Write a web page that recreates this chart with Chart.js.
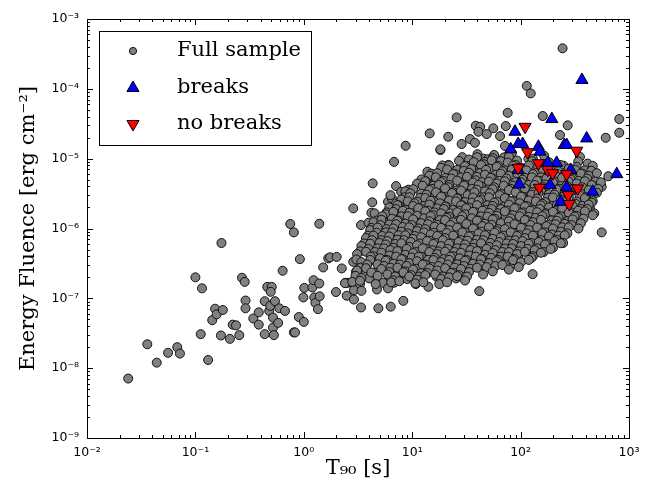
<!DOCTYPE html>
<html>
<head>
<meta charset="utf-8">
<script src="https://cdn.jsdelivr.net/npm/chart.js@4.4.1/dist/chart.umd.min.js"></script>
<style>
html,body{margin:0;padding:0;background:#fff;}
#wrap{width:651px;height:491px;}
</style>
</head>
<body>
<div id="wrap"><canvas id="grbChart" width="651" height="491"></canvas></div>
<script>
// axis ticks
const xTicks = [1e-2, 1e-1, 1e0, 1e1, 1e2, 1e3];
const xTickLabels = ['10⁻²', '10⁻¹', '10⁰', '10¹', '10²', '10³'];
const yTicks = [1e-9, 1e-8, 1e-7, 1e-6, 1e-5, 1e-4, 1e-3];
const yTickLabels = ['10⁻⁹', '10⁻⁸', '10⁻⁷', '10⁻⁶', '10⁻⁵', '10⁻⁴', '10⁻³'];

// [T90 (s), fluence (erg cm^-2)]
const fullSample = [
  // short / sparse part
  [0.024,7.1e-9],[0.036,2.2e-8],[0.044,1.2e-8],[0.056,1.66e-8],[0.068,2.0e-8],[0.072,1.62e-8],
  [0.1,2.0e-7],[0.115,1.39e-7],[0.112,3.07e-8],[0.131,1.31e-8],[0.143,4.87e-8],[0.152,7.1e-8],
  [0.157,5.9e-8],[0.179,6.8e-8],[0.172,2.94e-8],[0.174,6.2e-7],[0.208,2.63e-8],[0.221,4.2e-8],
  [0.237,4.1e-8],[0.254,2.97e-8],[0.269,1.97e-7],[0.285,1.72e-7],[0.29,9.3e-8],[0.29,7.2e-8],
  [0.342,5.15e-8],[0.384,6.3e-8],[0.384,4.2e-8],[0.436,3.07e-8],[0.436,9.1e-8],[0.46,1.46e-7],
  [0.506,1.46e-7],[0.495,1.24e-7],[0.48,6.6e-8],[0.49,7.8e-8],[0.542,9.1e-8],[0.52,5.3e-8],
  [0.52,3.8e-8],[0.53,2.97e-8],[0.594,7.2e-8],[0.58,4.45e-8],[0.671,6.6e-8],[0.638,2.48e-7],
  [0.81,3.25e-8],[0.83,3.25e-8],[0.9,5.4e-8],[0.92,3.64e-7],[1.0,4.6e-8],[0.99,1.03e-7],
  [1.01,1.41e-7],[1.2,1.43e-7],[1.23,1.82e-7],[1.39,1.63e-7],[1.25,1.03e-7],[1.28,8.6e-8],
  [1.35,7.0e-8],[1.4,1.07e-7],[1.51,2.77e-7],[1.68,3.73e-7],[0.75,1.16e-6],[0.81,8.8e-7],
  [1.39,1.17e-6],[1.75,3.87e-7],[2.01,3.92e-7],[1.98,1.23e-7],
  [2.86,3.33e-7],[2.24,2.68e-7],[3.03,2.4e-7],[3.54,2.99e-7],[3.67,2.3e-7],[4.0,1.93e-7],
  [2.42,1.67e-7],[2.56,1.67e-7],[2.76,1.69e-7],[2.93,1.59e-7],[3.3,1.6e-7],[2.9,1.31e-7],
  [3.4,1.28e-7],[2.49,1.09e-7],[2.9,9.6e-8],[3.37,7.4e-8],[4.87,7.2e-8],[6.34,7.6e-8],
  [8.28,9.2e-8],[4.73,1.34e-7],[5.41,1.67e-7],[5.98,1.39e-7],[6.17,2.03e-7],[6.8,1.67e-7],
  [7.4,2.22e-7],[8.2,2.3e-7],[9.0,1.89e-7],[10.8,1.6e-7],[9.9,2.4e-7],[12.2,2.3e-7],
  [14.1,1.46e-7],[16.8,2.03e-7],[20.1,1.89e-7],[15.1,3.09e-7],[17.8,3.13e-7],[13.6,4.3e-7],
  [16.8,4.4e-7],[6.8,3.93e-7],[4.65,3.33e-7],[5.41,2.83e-7],[4.2,4.0e-7],[6.5,2.99e-7],
  [8.9,3.13e-7],[11.4,3.93e-7],[19.4,3.93e-7],[21.3,3.09e-7],
  [41.6,1.27e-7],[129,2.22e-7],[143,4.8e-7],[95,3.87e-7],[86.9,3.18e-7],[75.4,4.0e-7],
  [60,2.99e-7],[45.3,2.77e-7],[37.9,3.45e-7],[29.6,4.3e-7],[25.4,1.93e-7],[25,2.2e-7],
  [25.9,3.09e-7],[48.7,3.73e-7],[60,4.6e-7],[50.8,3.13e-7],
  // upper edge of the cloud
  [6.8,9.0e-6],[4.32,4.43e-6],[2.86,1.94e-6],[4.28,2.37e-6],[5.98,2.41e-6],[6.5,2.7e-6],
  [7.1,4.05e-6],[7.9,3.36e-6],[8.7,3.25e-6],[6.3,3.0e-6],[7.1,2.29e-6],[8.7,2.21e-6],
  [6.8,1.73e-6],[4.2,1.68e-6],[4.5,1.65e-6],[5.2,1.35e-6],[3.37,1.12e-6],[3.96,1.21e-6],
  [5.3,1.12e-6],[6.1,1.4e-6],[7.1,1.35e-6],[3.96,7.8e-7],[3.8,6.7e-7],[4.6,6.8e-7],
  [5.0,5.3e-7],[4.3,3.87e-7],[5.6,6.2e-7],[6.2,5.5e-7],[6.5,8.7e-7],[7.6,9.5e-7],
  [7.4,6.4e-7],[8.3,5.8e-7],[10.6,1.65e-6],[11.8,2.1e-6],[13.8,6.5e-6],[15.1,5.5e-6],
  [12.2,5.05e-6],[13.8,3.96e-6],[14.8,3.18e-6],[16.2,5.2e-6],[17.8,4.9e-6],[18.2,1.33e-5],
  [21.5,8.1e-6],[20,4.43e-6],[21,3.18e-6],
  [25.7,3.9e-5],[14.5,2.3e-5],[21.5,2.06e-5],[8.7,1.53e-5],[18.2,1.36e-5],[28.6,1.62e-5],
  [34.1,1.91e-5],[37.9,1.69e-5],[38.6,2.96e-5],[42.4,2.86e-5],[40.8,2.43e-5],[48.7,2.25e-5],
  [45.3,1.0e-5],[29.6,9.5e-6],
  [244,3.8e-4],[114,1.1e-4],[124,8.6e-5],[76,4.54e-5],[160,4.08e-5],[272,3.0e-5],
  [813,3.69e-5],[813,2.35e-5],[610,1.99e-5],[73,2.93e-5],[56,2.72e-5],[64.6,2.1e-5],
  [71.8,1.52e-5],[231,2.18e-5],[353,1.06e-5],[379,6.2e-6],[475,4.43e-6],[560,3.96e-6],
  [644,5.6e-6],[437,1.94e-6],[560,8.8e-7],[296,1.32e-6],[275,1.06e-6],[353,1.65e-6],
  [266,1.65e-6],[200,2.55e-6],[231,2.04e-6],
  // dense core, row by row
  [29,1.05e-5],[40,1.16e-5],[50,9.8e-6],[57,1.13e-5],[70,1.04e-5],[83,1.2e-5],[118,1.0e-5],[165,1.1e-5],
  [33.4,9.7e-6],[39.6,1.05e-5],[46.9,9.0e-6],[55.3,1.02e-5],[65.7,9.2e-6],[78,1.07e-5],[92.8,9.4e-6],[130,1.0e-5],[182.5,8.9e-6],
  [19,8.0e-6],[27,9.3e-6],[33,7.8e-6],[37,8.9e-6],[46,8.3e-6],[54,9.5e-6],[62,7.9e-6],[76,8.8e-6],
  [90,8.1e-6],[128,9.2e-6],[172,8.4e-6],[250,7.9e-6],[340,9.1e-6],[415,8.5e-6],
  [18.5,7.4e-6],[21.9,8.0e-6],[26,6.9e-6],[30.7,7.8e-6],[36.4,7.0e-6],[43.2,8.1e-6],[51.1,7.2e-6],
  [60.2,7.6e-6],[71.6,6.8e-6],[85.2,7.9e-6],[101,7.4e-6],[119,8.0e-6],[142,6.9e-6],[168,7.8e-6],
  [199,7.0e-6],[235,8.1e-6],[278,7.2e-6],[329,7.6e-6],[392,6.8e-6],[463,7.9e-6],
  [15,6.1e-6],[21,7.0e-6],[25,6.0e-6],[30,6.7e-6],[35,7.1e-6],[42,6.2e-6],[48,6.9e-6],[59,5.9e-6],
  [68,6.6e-6],[83,7.0e-6],[98,6.0e-6],[113,6.8e-6],[138,6.2e-6],[160,7.1e-6],[193,6.0e-6],
  [222,6.6e-6],[320,6.9e-6],[372,6.1e-6],[450,6.7e-6],
  [14.4,5.7e-6],[17,6.2e-6],[20.1,5.3e-6],[23.9,6.0e-6],[28.2,5.4e-6],[33.4,6.3e-6],[39.6,5.5e-6],
  [46.9,5.9e-6],[55.3,5.2e-6],[65.7,6.1e-6],[78,5.7e-6],[92.8,6.2e-6],[109.5,5.3e-6],[130,6.0e-6],
  [154,5.4e-6],[182.5,6.3e-6],[216,5.5e-6],[255.5,5.9e-6],[302,5.2e-6],[360,6.1e-6],[425.5,5.7e-6],[505,6.2e-6],
  [13.5,4.7e-6],[16.5,5.4e-6],[19.5,4.8e-6],[23,5.2e-6],[27.5,4.6e-6],[32,5.5e-6],[38.5,4.9e-6],
  [44,4.6e-6],[53,5.3e-6],[64,4.8e-6],[74,5.2e-6],[90,4.6e-6],[104,5.0e-6],[127,5.4e-6],
  [150,4.8e-6],[173,5.2e-6],[210,4.7e-6],[242,5.3e-6],[292,5.0e-6],[342,4.8e-6],[410,5.2e-6],[490,4.7e-6],
  [11.1,4.4e-6],[13.2,4.75e-6],[15.7,4.1e-6],[18.5,4.6e-6],[21.9,4.2e-6],[26,4.85e-6],[30.7,4.25e-6],
  [36.4,4.55e-6],[43.2,4.05e-6],[51.1,4.7e-6],[60.2,4.4e-6],[71.6,4.75e-6],[85.2,4.1e-6],[101,4.6e-6],
  [119,4.2e-6],[142,4.85e-6],[168,4.25e-6],[199,4.55e-6],[235,4.05e-6],[278,4.7e-6],[329,4.4e-6],
  [392,4.75e-6],[463,4.1e-6],[550,4.6e-6],
  [9.2,3.6e-6],[12.5,4.1e-6],[15.2,3.7e-6],[17.6,4.2e-6],[21.5,3.9e-6],[24.5,3.5e-6],[30,4.1e-6],
  [35.5,3.7e-6],[41,4.2e-6],[50,3.6e-6],[57,3.9e-6],[70,4.1e-6],[81,3.7e-6],[116,3.6e-6],
  [135,4.2e-6],[163,3.9e-6],[228,3.7e-6],[265,4.1e-6],[322,3.6e-6],[370,3.9e-6],[452,4.2e-6],[520,3.7e-6],
  [8.65,3.4e-6],[10.2,3.65e-6],[12.1,3.15e-6],[14.4,3.55e-6],[17,3.25e-6],[20.1,3.75e-6],[23.9,3.3e-6],
  [28.2,3.5e-6],[33.4,3.1e-6],[39.6,3.6e-6],[46.9,3.4e-6],[55.3,3.65e-6],[65.7,3.15e-6],[78,3.55e-6],
  [92.8,3.25e-6],[109.5,3.75e-6],[130,3.3e-6],[154,3.5e-6],[182.5,3.1e-6],[216,3.6e-6],[255.5,3.4e-6],
  [302,3.65e-6],[360,3.15e-6],[425.5,3.55e-6],[505,3.25e-6],
  [8.5,2.8e-6],[9.6,3.2e-6],[11.8,2.75e-6],[13.5,3.05e-6],[16.6,3.3e-6],[19,2.8e-6],[23.3,3.2e-6],
  [26.5,2.7e-6],[32.5,3.0e-6],[37.5,3.3e-6],[45.5,2.8e-6],[52,3.2e-6],[64,3.0e-6],[74,2.7e-6],
  [90,3.3e-6],[104,2.85e-6],[127,3.05e-6],[146,3.2e-6],[178,2.75e-6],[205,3.05e-6],[248,2.85e-6],
  [287,3.3e-6],[350,3.0e-6],[402,2.8e-6],
  [7.95,2.6e-6],[9.4,2.8e-6],[11.1,2.42e-6],[13.2,2.73e-6],[15.7,2.47e-6],[18.5,2.86e-6],[21.9,2.52e-6],
  [26,2.68e-6],[30.7,2.39e-6],[36.4,2.78e-6],[43.2,2.6e-6],[51.1,2.8e-6],[60.2,2.42e-6],[71.6,2.73e-6],
  [85.2,2.47e-6],[101,2.86e-6],[119,2.52e-6],[142,2.68e-6],[168,2.39e-6],[199,2.78e-6],[235,2.6e-6],
  [278,2.8e-6],[329,2.42e-6],[392,2.73e-6],[463,2.47e-6],
  [7.5,2.15e-6],[9.1,2.45e-6],[10.5,2.3e-6],[12.9,2.1e-6],[14.8,2.5e-6],[18,2.3e-6],[20.7,2.05e-6],
  [25.4,2.45e-6],[29,2.15e-6],[35.5,2.35e-6],[41,2.5e-6],[49.5,2.15e-6],[57,2.35e-6],[70,2.05e-6],
  [81,2.45e-6],[98,2.3e-6],[114,2.1e-6],[138,2.45e-6],[159,2.25e-6],[194,2.1e-6],[264,2.45e-6],
  [322,2.25e-6],[372,2.1e-6],[452,2.35e-6],
  [6.15,2.0e-6],[7.3,2.16e-6],[8.65,1.86e-6],[10.2,2.1e-6],[12.1,1.9e-6],[14.4,2.2e-6],[17,1.94e-6],
  [20.1,2.06e-6],[23.9,1.84e-6],[28.2,2.14e-6],[33.4,2.0e-6],[39.6,2.16e-6],[46.9,1.86e-6],[55.3,2.1e-6],
  [65.7,1.9e-6],[78,2.2e-6],[92.8,1.94e-6],[109.5,2.06e-6],[130,1.84e-6],[154,2.14e-6],[182.5,2.0e-6],
  [216,2.16e-6],[255.5,1.86e-6],[302,2.1e-6],[360,1.9e-6],[425.5,2.2e-6],
  [5.8,1.7e-6],[7.1,1.9e-6],[8.2,1.8e-6],[9.9,1.65e-6],[11.4,1.95e-6],[14,1.8e-6],[16,1.7e-6],
  [19.6,1.9e-6],[22.5,1.65e-6],[27.5,1.8e-6],[31.5,1.95e-6],[38.5,1.7e-6],[44.5,1.8e-6],[54,1.9e-6],
  [62,1.65e-6],[76,1.8e-6],[88,1.95e-6],[107,1.7e-6],[123,1.8e-6],[150,1.9e-6],[172,1.65e-6],
  [210,1.8e-6],[242,1.95e-6],[294,1.7e-6],[340,1.8e-6],[412,1.9e-6],[478,1.65e-6],
  [5.7,1.6e-6],[6.7,1.73e-6],[7.95,1.49e-6],[9.4,1.68e-6],[11.1,1.52e-6],[13.2,1.76e-6],[15.7,1.55e-6],
  [18.5,1.65e-6],[21.9,1.47e-6],[26,1.71e-6],[30.7,1.6e-6],[36.4,1.73e-6],[43.2,1.49e-6],[51.1,1.68e-6],
  [60.2,1.52e-6],[71.6,1.76e-6],[85.2,1.55e-6],[101,1.65e-6],[119,1.47e-6],[142,1.71e-6],[168,1.6e-6],
  [199,1.73e-6],[235,1.49e-6],[278,1.68e-6],[329,1.52e-6],[392,1.76e-6],[463,1.55e-6],
  [4.7,1.3e-6],[5.3,1.5e-6],[6.5,1.38e-6],[7.5,1.3e-6],[9.1,1.5e-6],[10.6,1.27e-6],[12.9,1.4e-6],
  [14.8,1.5e-6],[18,1.32e-6],[20.8,1.42e-6],[25.4,1.27e-6],[29,1.5e-6],[35.5,1.4e-6],[41,1.3e-6],
  [49.5,1.48e-6],[57.5,1.38e-6],[70,1.27e-6],[81,1.4e-6],[98,1.5e-6],[114,1.32e-6],[138,1.42e-6],
  [159,1.5e-6],[194,1.3e-6],[224,1.42e-6],[270,1.27e-6],[315,1.48e-6],[380,1.38e-6],
  [4.4,1.23e-6],[5.2,1.33e-6],[6.15,1.14e-6],[7.3,1.29e-6],[8.65,1.17e-6],[10.2,1.35e-6],[12.1,1.19e-6],
  [14.4,1.27e-6],[17,1.13e-6],[20.1,1.32e-6],[23.9,1.23e-6],[28.2,1.33e-6],[33.4,1.14e-6],[39.6,1.29e-6],
  [46.9,1.17e-6],[55.3,1.35e-6],[65.7,1.19e-6],[78,1.27e-6],[92.8,1.13e-6],[109.5,1.32e-6],[130,1.23e-6],
  [154,1.33e-6],[182.5,1.14e-6],[216,1.29e-6],[255.5,1.17e-6],[302,1.35e-6],[360,1.19e-6],
  [4.2,1.02e-6],[5.1,1.12e-6],[5.8,9.8e-7],[7.1,1.15e-6],[8.2,1.05e-6],[9.9,1.12e-6],[11.5,1.0e-6],
  [14,1.15e-6],[16.1,1.06e-6],[19.6,9.8e-7],[22.6,1.12e-6],[27.4,1.04e-6],[31.6,1.16e-6],[38.5,1.0e-6],
  [44.5,1.08e-6],[54,1.13e-6],[62,9.8e-7],[76,1.05e-6],[88,1.15e-6],[106,1.02e-6],[124,1.12e-6],
  [150,1.0e-6],[173,1.08e-6],[210,1.15e-6],[242,1.04e-6],[294,1.12e-6],[342,1.0e-6],
  [4.1,9.5e-7],[4.8,1.03e-6],[5.7,8.8e-7],[6.7,1.0e-6],[7.95,9.0e-7],[9.4,1.04e-6],[11.1,9.2e-7],
  [13.2,9.8e-7],[15.7,8.7e-7],[18.5,1.02e-6],[21.9,9.5e-7],[26,1.03e-6],[30.7,8.8e-7],[36.4,1.0e-6],
  [43.2,9.0e-7],[51.1,1.04e-6],[60.2,9.2e-7],[71.6,9.8e-7],[85.2,8.7e-7],[101,1.02e-6],[119,9.5e-7],
  [142,1.03e-6],[168,8.8e-7],[199,1.0e-6],[235,9.0e-7],[278,1.04e-6],
  [3.9,7.9e-7],[4.7,8.7e-7],[5.3,7.8e-7],[6.5,8.8e-7],[7.5,8.0e-7],[9.1,8.5e-7],[10.6,7.8e-7],
  [12.9,8.8e-7],[14.8,8.2e-7],[18,7.9e-7],[20.8,8.6e-7],[25.4,8.0e-7],[29,8.8e-7],[35.5,7.8e-7],
  [41,8.5e-7],[49.5,8.2e-7],[57.5,8.7e-7],[70,7.9e-7],[81,8.8e-7],[98,8.0e-7],[114,8.5e-7],
  [138,7.8e-7],[159,8.6e-7],[194,8.2e-7],[224,7.9e-7],[270,8.5e-7],
  [3.75,7.3e-7],[4.4,7.9e-7],[5.2,6.8e-7],[6.15,7.7e-7],[7.3,6.9e-7],[8.65,8.0e-7],[10.2,7.1e-7],
  [12.1,7.5e-7],[14.4,6.7e-7],[17,7.8e-7],[20.1,7.3e-7],[23.9,7.9e-7],[28.2,6.8e-7],[33.4,7.7e-7],
  [39.6,6.9e-7],[46.9,8.0e-7],[55.3,7.1e-7],[65.7,7.5e-7],[78,6.7e-7],[92.8,7.8e-7],[109.5,7.3e-7],
  [130,7.9e-7],[154,6.8e-7],[182.5,7.7e-7],[216,6.9e-7],[255.5,8.0e-7],
  [3.6,6.1e-7],[4.25,6.8e-7],[5.0,6.2e-7],[5.9,6.6e-7],[7.0,6.0e-7],[8.4,6.8e-7],[9.7,6.4e-7],
  [11.7,6.1e-7],[13.7,6.6e-7],[16.4,6.2e-7],[19.2,6.8e-7],[23,6.1e-7],[26.8,6.4e-7],[32.3,6.7e-7],
  [37.7,6.0e-7],[45.3,6.8e-7],[52.6,6.2e-7],[63.5,6.4e-7],[74.5,6.1e-7],[89.5,6.8e-7],[104,6.6e-7],
  [126,6.2e-7],[147,6.4e-7],[176,6.0e-7],[206,6.6e-7],[247,6.2e-7],
  [3.4,5.6e-7],[4.1,6.05e-7],[4.8,5.2e-7],[5.7,5.9e-7],[6.7,5.3e-7],[7.95,6.15e-7],[9.4,5.45e-7],
  [11.1,5.75e-7],[13.2,5.15e-7],[15.7,6.0e-7],[18.5,5.6e-7],[21.9,6.05e-7],[26,5.2e-7],[30.7,5.9e-7],
  [36.4,5.3e-7],[43.2,6.15e-7],[51.1,5.45e-7],[60.2,5.75e-7],[71.6,5.15e-7],[85.2,6.0e-7],[101,5.6e-7],
  [119,6.05e-7],[142,5.2e-7],[168,5.9e-7],[199,5.3e-7],[235,6.15e-7],
  [3.3,4.7e-7],[3.95,5.1e-7],[4.55,4.6e-7],[5.5,5.2e-7],[6.3,4.9e-7],[7.7,4.7e-7],[8.9,5.1e-7],
  [10.9,4.6e-7],[12.5,5.2e-7],[15.3,4.9e-7],[17.5,4.7e-7],[21.3,5.1e-7],[24.6,4.6e-7],[30,5.2e-7],
  [34.5,4.9e-7],[42,4.7e-7],[48.5,5.1e-7],[58.5,4.9e-7],[68,4.6e-7],[83,5.2e-7],[96,4.7e-7],
  [116,5.1e-7],[135,4.9e-7],[163,4.6e-7],[189,5.1e-7],
  [3.1,4.3e-7],[3.75,4.65e-7],[4.4,4.0e-7],[5.2,4.5e-7],[6.15,4.1e-7],[7.3,4.75e-7],[8.65,4.2e-7],
  [10.2,4.45e-7],[12.1,3.95e-7],[14.4,4.6e-7],[17,4.3e-7],[20.1,4.65e-7],[23.9,4.0e-7],[28.2,4.5e-7],
  [33.4,4.1e-7],[39.6,4.75e-7],[46.9,4.2e-7],[55.3,4.45e-7],[65.7,3.95e-7],[78,4.6e-7],[92.8,4.3e-7],
  [109.5,4.65e-7],[130,4.0e-7],[154,4.5e-7],
  [3.05,3.6e-7],[4.15,3.95e-7],[5.05,3.75e-7],[5.85,3.55e-7],[7.1,3.95e-7],[8.2,3.65e-7],[9.9,3.85e-7],
  [11.5,3.95e-7],[14,3.55e-7],[16.1,3.8e-7],[19.5,3.65e-7],[22.6,3.95e-7],[27.4,3.75e-7],[31.6,3.55e-7],
  [38.5,3.95e-7],[44.5,3.65e-7],[53.5,3.8e-7],[62,3.55e-7],[76,3.95e-7],[88,3.65e-7],[126,3.8e-7],
  [3.4,3.3e-7],[4.1,3.55e-7],[4.8,3.07e-7],[5.7,3.45e-7],[6.7,3.13e-7],[7.95,3.63e-7],[9.4,3.2e-7],
  [11.1,3.4e-7],[13.2,3.04e-7],[15.7,3.53e-7],[18.5,3.3e-7],[21.9,3.55e-7],[26,3.07e-7],[30.7,3.45e-7],
  [36.4,3.13e-7],[43.2,3.63e-7],[51.1,3.2e-7],[60.2,3.4e-7],[71.6,3.04e-7],[85.2,3.53e-7],[101,3.3e-7],[119,3.55e-7],
  [3.35,2.75e-7],[3.85,3.05e-7],[5.5,2.9e-7],[6.3,2.75e-7],[7.7,3.05e-7],[8.9,2.9e-7],[10.9,2.65e-7],
  [12.5,3.05e-7],[15.3,2.8e-7],[17.5,2.9e-7],[21.3,3.05e-7],[24.6,2.75e-7],[30,2.9e-7],[34.5,2.65e-7],
  [42,3.05e-7],[48.5,2.8e-7],[58.5,2.9e-7],[68,3.0e-7],[96,2.8e-7],
  [3.1,2.5e-7],[3.75,2.7e-7],[4.4,2.33e-7],[5.2,2.63e-7],[6.15,2.38e-7],[7.3,2.75e-7],[8.65,2.43e-7],
  [10.2,2.58e-7],[12.1,2.3e-7],[14.4,2.68e-7],[17,2.5e-7],[20.1,2.7e-7],[23.9,2.33e-7],[28.2,2.63e-7],
  [33.4,2.38e-7],[39.6,2.75e-7],[55.3,2.43e-7],[78,2.58e-7],
  [3.0,2.1e-7],[4.2,2.35e-7],[5.9,2.2e-7],[7.0,2.05e-7],[8.3,2.35e-7],[9.8,2.15e-7],[11.6,2.05e-7],
  [13.8,2.3e-7],[16.3,2.2e-7],[19.3,2.05e-7],[22.9,2.3e-7],[27,2.15e-7],[32,2.05e-7],[45,2.2e-7],
  [3.4,1.95e-7],[4.8,2.1e-7],[6.7,1.81e-7],[9.4,2.05e-7],[11.1,1.85e-7],[13.2,2.15e-7],[18.5,1.89e-7],
  [21.9,2.0e-7],[30.7,1.8e-7],[26,2.08e-7],
  [2.4,1.65e-7],[2.8,1.72e-7],[3.3,1.78e-7],[4.6,1.6e-7],[6.4,1.7e-7],[7.6,1.76e-7],[10.7,1.64e-7],
  [12.7,1.7e-7],[17.8,1.6e-7],[21,1.7e-7]
];

const breaks = [
  [368,1.34e-4],[194,3.69e-5],[88.7,2.43e-5],[407,1.95e-5],[81,1.36e-5],[95,1.62e-5],
  [104.5,1.62e-5],[146,1.48e-5],[253,1.57e-5],[266,1.57e-5],[151,1.26e-5],[215,8.7e-6],
  [178,8.7e-6],[95,6.9e-6],[771,6.0e-6],[290,6.9e-6],[97,4.28e-6],[187,4.18e-6],
  [266,3.88e-6],[462,3.36e-6],[234,2.41e-6]
];

const noBreaks = [
  [110,2.86e-5],[329,1.3e-5],[116,1.24e-5],[146,8.6e-6],[95,7.4e-6],[178,6.9e-6],
  [198,6.2e-6],[266,6.0e-6],[149,3.83e-6],[336,3.75e-6],[275,3.01e-6],[281,2.24e-6]
];

const seriesNames = ['Full sample', 'breaks', 'no breaks'];

// inward ticks on all four sides + frame, like the original
const frameTicks = {
  id: 'frameTicks',
  afterDatasetsDraw(chart){
    const {ctx, chartArea:a, scales:{x, y}} = chart;
    ctx.save();
    ctx.strokeStyle = '#000';
    ctx.lineWidth = 1;
    ctx.beginPath();
    const xt = (v, len)=>{
      const p = Math.round(x.getPixelForValue(v)) + 0.5;
      ctx.moveTo(p, a.bottom); ctx.lineTo(p, a.bottom - len);
      ctx.moveTo(p, a.top); ctx.lineTo(p, a.top + len);
    };
    const yt = (v, len)=>{
      const p = Math.round(y.getPixelForValue(v)) + 0.5;
      ctx.moveTo(a.left, p); ctx.lineTo(a.left + len, p);
      ctx.moveTo(a.right, p); ctx.lineTo(a.right - len, p);
    };
    xTicks.forEach((v, i)=>{
      xt(v, 6);
      if(i < xTicks.length - 1) for(let m = 2; m < 10; m++) xt(v * m, 3);
    });
    yTicks.forEach((v, i)=>{
      yt(v, 6);
      if(i < yTicks.length - 1) for(let m = 2; m < 10; m++) yt(v * m, 3);
    });
    ctx.stroke();
    ctx.strokeRect(Math.round(a.left) + 0.5, Math.round(a.top) + 0.5,
      Math.round(a.right - a.left), Math.round(a.bottom - a.top));
    ctx.restore();
  }
};

// legend box in the upper left of the axes
const boxLegend = {
  id: 'boxLegend',
  afterDraw(chart){
    const {ctx, chartArea:a} = chart;
    const bx = a.left + 12, by = a.top + 12, bw = 212, bh = 114;
    ctx.save();
    ctx.fillStyle = '#fff';
    ctx.strokeStyle = '#000';
    ctx.lineWidth = 1;
    ctx.fillRect(bx, by, bw, bh);
    ctx.strokeRect(bx + 0.5, by + 0.5, bw, bh);
    const rows = [20, 57, 93];
    const ds = chart.data.datasets;
    [2, 1, 0].forEach((di, r)=>{
      const d = ds[di];
      const cy = by + rows[r];
      ctx.fillStyle = d.pointBackgroundColor;
      ctx.strokeStyle = d.pointBorderColor;
      ctx.lineWidth = 1;
      Chart.helpers.drawPoint(ctx, {
        pointStyle: d.pointStyle,
        rotation: d.pointRotation || 0,
        radius: d.pointStyle === 'circle' ? 3.6 : 7,
        borderWidth: 1
      }, bx + 34, cy);
      ctx.fillStyle = '#000';
      ctx.font = '21px "DejaVu Serif"';
      ctx.textBaseline = 'middle';
      ctx.textAlign = 'left';
      ctx.fillText(d.label, bx + 78, cy);
    });
    ctx.restore();
  }
};

new Chart(document.getElementById('grbChart'), {
  type: 'scatter',
  data: {
    datasets: [
      { label: seriesNames[2], data: noBreaks, order: 1,
        pointStyle: 'triangle', pointRotation: 180, pointRadius: 7,
        pointBackgroundColor: '#ff0000', pointBorderColor: '#000', pointBorderWidth: 1 },
      { label: seriesNames[1], data: breaks, order: 2,
        pointStyle: 'triangle', pointRotation: 0, pointRadius: 7,
        pointBackgroundColor: '#0000ff', pointBorderColor: '#000', pointBorderWidth: 1 },
      { label: seriesNames[0], data: fullSample, order: 3,
        pointStyle: 'circle', pointRadius: 4.5,
        pointBackgroundColor: '#808080', pointBorderColor: '#111', pointBorderWidth: 1 }
    ]
  },
  options: {
    responsive: false,
    animation: false,
    events: [],
    layout: { padding: { top: 19, right: 22, left: 0, bottom: 0 } },
    plugins: { legend: { display: false }, tooltip: { enabled: false } },
    scales: {
      x: {
        type: 'logarithmic', position: 'bottom', min: 1e-2, max: 1e3,
        grid: { display: false, drawTicks: false }, border: { display: false },
        afterBuildTicks: s=>{ s.ticks = xTicks.map(v=>({value: v})); },
        afterFit: s=>{ s.height = 53; },
        ticks: { autoSkip: false, maxRotation: 0, padding: 7, color: '#000',
          font: { family: 'DejaVu Sans', size: 12.5 },
          callback: (v, i)=>xTickLabels[i] },
        title: { display: true, text: 'T₉₀ [s]', color: '#000',
          font: { family: 'DejaVu Serif', size: 21 }, padding: { top: 0, bottom: 10 } }
      },
      y: {
        type: 'logarithmic', position: 'left', min: 1e-9, max: 1e-3,
        grid: { display: false, drawTicks: false }, border: { display: false },
        afterBuildTicks: s=>{ s.ticks = yTicks.map(v=>({value: v})); },
        afterFit: s=>{ s.width = 87; },
        ticks: { autoSkip: false, padding: 8, color: '#000',
          font: { family: 'DejaVu Sans', size: 12.5 },
          callback: (v, i)=>yTickLabels[i] },
        title: { display: true, text: 'Energy Fluence [erg cm⁻²]', color: '#000',
          font: { family: 'DejaVu Serif', size: 21 }, padding: { top: 16, bottom: 0 } }
      }
    }
  },
  plugins: [frameTicks, boxLegend]
});
</script>
</body>
</html>
